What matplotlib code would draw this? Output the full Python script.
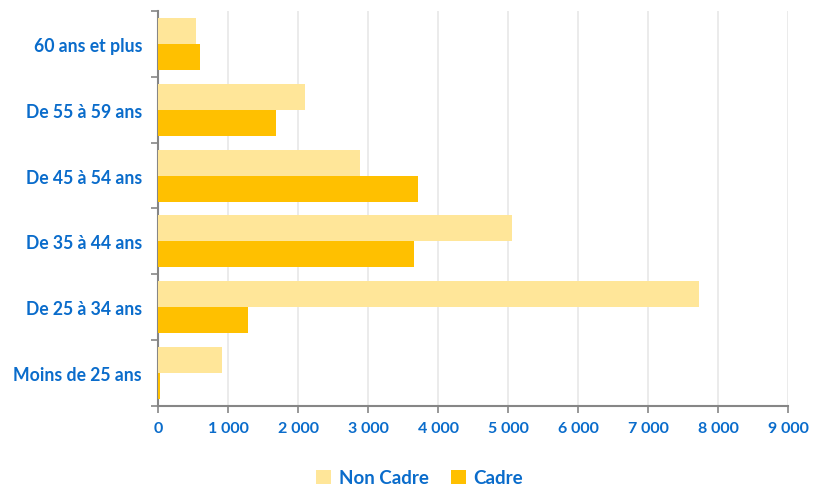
import numpy as np
import matplotlib.pyplot as plt
from matplotlib.ticker import FuncFormatter

# Données
categories = ["Moins de 25 ans", "De 25 à 34 ans", "De 35 à 44 ans",
              "De 45 à 54 ans", "De 55 à 59 ans", "60 ans et plus"]
non_cadre = [920, 7730, 5050, 2890, 2100, 540]
cadre = [35, 1290, 3650, 3720, 1685, 600]
x_ticks = [0, 1000, 2000, 3000, 4000, 5000, 6000, 7000, 8000, 9000]

bleu = '#0A6CCB'
plt.rcParams['font.family'] = ['Lato', 'DejaVu Sans']

fig = plt.figure(figsize=(8.23, 4.89), dpi=100)
ax = fig.add_axes([0.192, 0.1677, 0.7655, 0.8078])

y = np.arange(len(categories))
h = 0.394
ax.barh(y + h / 2, non_cadre, height=h, color='#FFE699', label='Non Cadre', zorder=3)
ax.barh(y - h / 2, cadre, height=h, color='#FFC000', label='Cadre', zorder=3)

ax.set_xlim(0, 9000)
ax.set_ylim(-0.5, len(categories) - 0.5)

# Axe X
ax.set_xticks(x_ticks)
ax.xaxis.set_major_formatter(FuncFormatter(lambda v, p: f"{int(v):,}".replace(",", " ")))
ax.tick_params(axis='x', direction='out', length=5, width=1.2, color='#868686',
               labelcolor=bleu, labelsize=11.5, pad=6)
for lbl in ax.get_xticklabels():
    lbl.set_fontweight('bold')

# Axe Y : étiquettes au centre, graduations entre les catégories
ax.set_yticks(y)
ax.set_yticklabels(categories, fontweight='bold', color=bleu, fontsize=12.7)
ax.set_yticks(np.arange(-0.5, len(categories)), minor=True)
ax.tick_params(axis='y', which='major', length=0, pad=11.5)
ax.tick_params(axis='y', which='minor', direction='out', length=5, width=1.2, color='#868686')

ax.grid(axis='x', color='#E8E8E8', linewidth=1.2, zorder=0)
ax.spines['top'].set_visible(False)
ax.spines['right'].set_visible(False)
for s in ['left', 'bottom']:
    ax.spines[s].set_color('#868686')
    ax.spines[s].set_linewidth(1.5)

leg = fig.legend(loc='center', bbox_to_anchor=(0.51, 0.021), ncol=2, frameon=False,
                 handlelength=0.8, handleheight=0.8, handletextpad=0.4, columnspacing=1.2,
                 prop={'weight': 'bold', 'size': 13.5})
for t in leg.get_texts():
    t.set_color(bleu)

fig.savefig('out.png', dpi=100)
